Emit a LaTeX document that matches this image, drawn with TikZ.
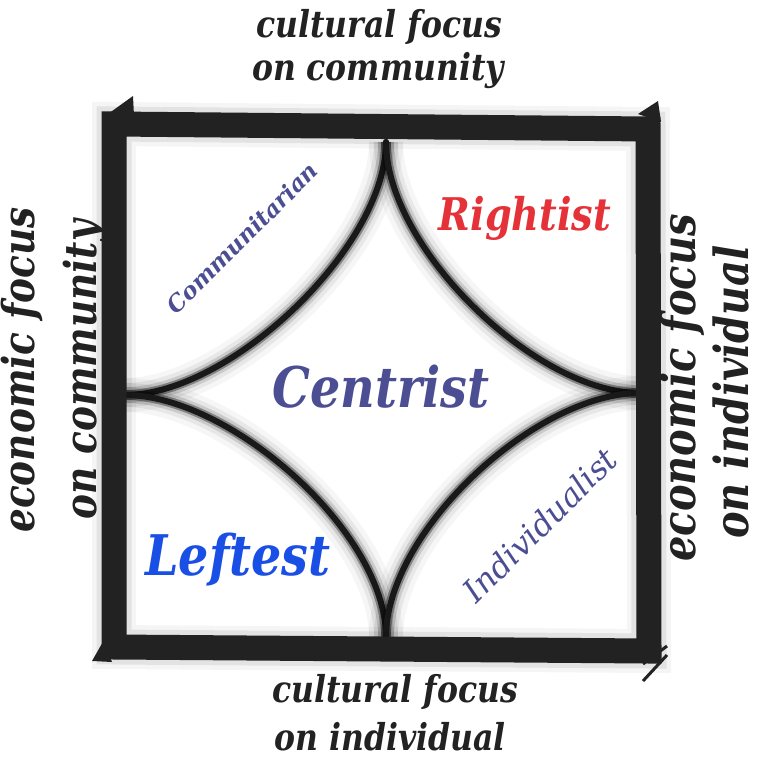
\documentclass[tikz,border=0pt]{standalone}
\usepackage{fontspec}
\usepackage{graphicx}
\newfontfamily\lab[FakeStretch=0.85]{DejaVu Serif}
\newfontfamily\labw{DejaVu Serif}
\definecolor{ink}{HTML}{222222}
\definecolor{slate}{HTML}{4B4E93}
\definecolor{rightred}{HTML}{E53238}
\definecolor{leftblue}{HTML}{1A4FE6}
\tikzset{
  axislab/.style={font=\lab\bfseries\itshape\fontsize{37}{44}\selectfont, text=ink, inner sep=0},
  sidelab/.style={font=\lab\bfseries\itshape\fontsize{44}{50}\selectfont, text=ink, inner sep=0, rotate=90},
  zonelab/.style={inner sep=0},
  fuzzy/.style={line cap=round,
    preaction={draw=black, line width=34pt, opacity=.035},
    preaction={draw=black, line width=24pt, opacity=.06},
    preaction={draw=black, line width=16pt, opacity=.12},
    preaction={draw=black, line width=10pt, opacity=.35},
    draw=black!90, line width=6pt},
  frame/.style={draw=ink, line width=25pt, line join=miter,
    preaction={draw=black, line width=44pt, opacity=.04},
    preaction={draw=black, line width=35pt, opacity=.07}},
}
\begin{document}
\begin{tikzpicture}[x=1pt,y=-1pt]
\useasboundingbox (0,0) rectangle (758,778);
\fill[white] (0,0) rectangle (758,778);

% star corners
\coordinate (T) at (386,142);
\coordinate (R) at (640,393);
\coordinate (B) at (386,637);
\coordinate (L) at (125,395);

% concave star
\draw[fuzzy] (T) .. controls +(0,105) and +(105,0) .. (L);
\draw[fuzzy] (T) .. controls +(0,105) and +(-105,0) .. (R);
\draw[fuzzy] (B) .. controls +(0,-105) and +(105,0) .. (L);
\draw[fuzzy] (B) .. controls +(0,-105) and +(-105,0) .. (R);

% frame
\coordinate (c1) at (114,124);
\coordinate (c2) at (648,129);
\coordinate (c3) at (649,651);
\coordinate (c4) at (114,647);
\draw[frame] (c1) -- (c2) -- (c3) -- (c4) -- cycle;
\fill[ink] (108,114) -- (133,96) -- (134,116) -- cycle;
\fill[ink] (638,114) -- (658,101) -- (661,122) -- cycle;
\fill[ink] (92,661) -- (104,640) -- (112,662) -- cycle;
\draw[ink, line width=3pt] (643,664) -- (667,646);
\draw[ink, line width=3pt] (643,681) -- (667,655);

% axis labels
\node[axislab] (ctop1) at (379,27) {cultural focus};
\node[axislab] (ctop2) at (378,71) {on community};
\node[axislab] (cbot1) at (395,692) {cultural focus};
\node[axislab] (cbot2) at (390,737) {on individual};
\node[sidelab] (el1) at (22,370) {economic focus};
\node[sidelab] (el2) at (85,370) {on community};
\node[sidelab, font=\lab\bfseries\itshape\fontsize{47}{52}\selectfont] (er1) at (682,388) {economic focus};
\node[sidelab, font=\lab\bfseries\itshape\fontsize{47}{52}\selectfont] (er2) at (731,392) {on individual};

% zone labels
\node[zonelab, text=slate, font=\lab\bfseries\itshape\fontsize{56}{60}\selectfont] (cen) at (381,387) {Centrist};
\node[zonelab, text=rightred, font=\lab\bfseries\itshape\fontsize{45}{48}\selectfont] (rig) at (525,218) {Rightist};
\node[zonelab, text=leftblue, font=\lab\bfseries\itshape\fontsize{56}{60}\selectfont] (lef) at (238,560) {Leftest};
\node[zonelab, text=slate, rotate=45, font=\labw\bfseries\itshape\fontsize{23}{26}\selectfont] (com) at (242,238) {Communitarian};
\node[zonelab, text=slate, rotate=45, font=\labw\itshape\fontsize{32}{34}\selectfont] (ind) at (540,525) {Individualist};
\end{tikzpicture}
\end{document}
